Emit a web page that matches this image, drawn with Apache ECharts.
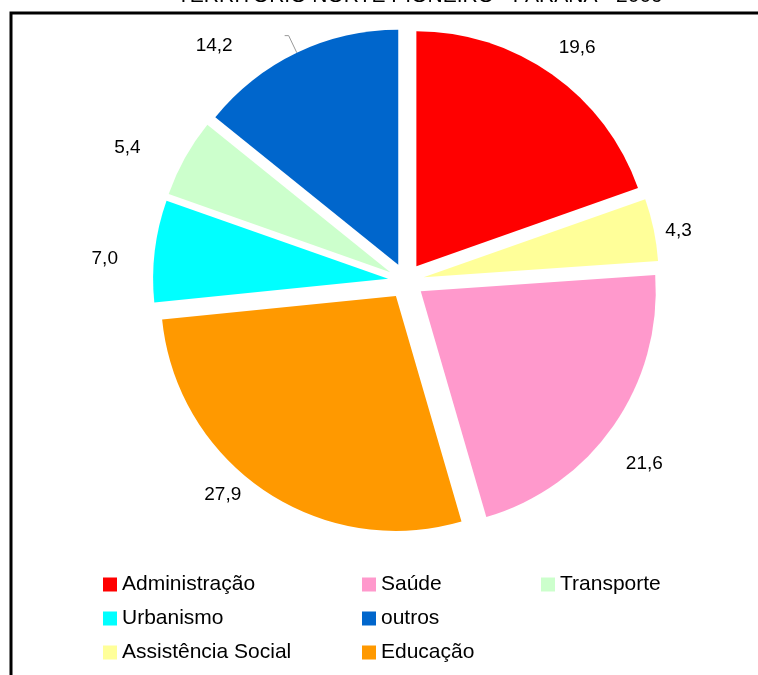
<!DOCTYPE html>
<html>
<head>
<meta charset="utf-8">
<script src="https://cdn.jsdelivr.net/npm/echarts@6/dist/echarts.min.js"></script>
<style>
html,body{margin:0;padding:0;background:#fff;}
#chart{width:758px;height:675px;}
</style>
</head>
<body>
<div id="chart"></div>
<script>
// ---- data ----
const categories = ['Administração', 'Assistência Social', 'Saúde', 'Educação', 'Urbanismo', 'Transporte', 'outros'];
const values = [19.6, 4.3, 21.6, 27.9, 7.0, 5.4, 14.2];
const titleText = 'TERRITÓRIO NORTE PIONEIRO - PARANÁ - 2009';
const legendCol1 = ['Administração', 'Urbanismo', 'Assistência Social'];
const legendCol2 = ['Saúde', 'outros', 'Educação'];
const legendCol3 = ['Transporte'];

// ---- styles ----
const colors = {
  'Administração': '#FF0000',
  'Assistência Social': '#FFFF99',
  'Saúde': '#FF99CC',
  'Educação': '#FF9900',
  'Urbanismo': '#00FFFF',
  'Transporte': '#CCFFCC',
  'outros': '#0066CC'
};
// small per-label nudges (pixels) applied after the library's outside layout
const labelNudge = {
  'Administração': [-8, -10],
  'Assistência Social': [-11, 5],
  'Saúde': [-7, 26],
  'Educação': [-9, -13],
  'Urbanismo': [-14, 10],
  'Transporte': [-24, 0],
  'outros': [6, 10]
};
const FONT = '"Liberation Sans", Arial, sans-serif';

const pieData = categories.map((c, i) => {
  const item = {
    name: c,
    value: values[i],
    selected: true,
    itemStyle: { color: colors[c] }
  };
  if (c === 'outros') {
    item.labelLine = { show: true, length: 19, length2: 4, lineStyle: { color: '#999', width: 1 } };
    item.label = { distanceToLabelLine: 58 };
  }
  return item;
});

const legendBase = {
  orient: 'vertical',
  top: 574,
  padding: 0,
  icon: 'rect',
  itemWidth: 14,
  itemHeight: 14,
  itemGap: 13,
  selectedMode: false,
  textStyle: { fontFamily: FONT, fontSize: 21, color: '#000' }
};

const chart = echarts.init(document.getElementById('chart'), null, { renderer: 'canvas' });
chart.setOption({
  animation: false,
  backgroundColor: '#fff',
  graphic: [
    {
      type: 'text',
      left: 177,
      top: -14,
      style: { text: titleText, font: '21px ' + FONT, fill: '#000' }
    },
    {
      type: 'polyline',
      shape: { points: [[11, 675], [11, 13], [758, 13]] },
      style: { stroke: '#000', lineWidth: 3, fill: null }
    }
  ],
  legend: [
    Object.assign({}, legendBase, { left: 103, data: legendCol1 }),
    Object.assign({}, legendBase, { left: 362, data: legendCol2 }),
    Object.assign({}, legendBase, { left: 541, data: legendCol3 })
  ],
  series: [{
    type: 'pie',
    center: [406, 281],
    radius: [0, 235],
    startAngle: 90,
    clockwise: true,
    selectedMode: 'multiple',
    selectedOffset: 18,
    avoidLabelOverlap: false,
    emphasis: { disabled: true },
    label: {
      show: true,
      position: 'outside',
      fontFamily: FONT,
      fontSize: 19,
      color: '#000',
      distanceToLabelLine: 3,
      formatter: p => p.value.toFixed(1).replace('.', ',')
    },
    labelLine: { show: false, length: 20, length2: 0 },
    labelLayout: p => {
      const n = labelNudge[categories[p.dataIndex]] || [0, 0];
      return { dx: n[0], dy: n[1] };
    },
    data: pieData
  }]
});
</script>
</body>
</html>
